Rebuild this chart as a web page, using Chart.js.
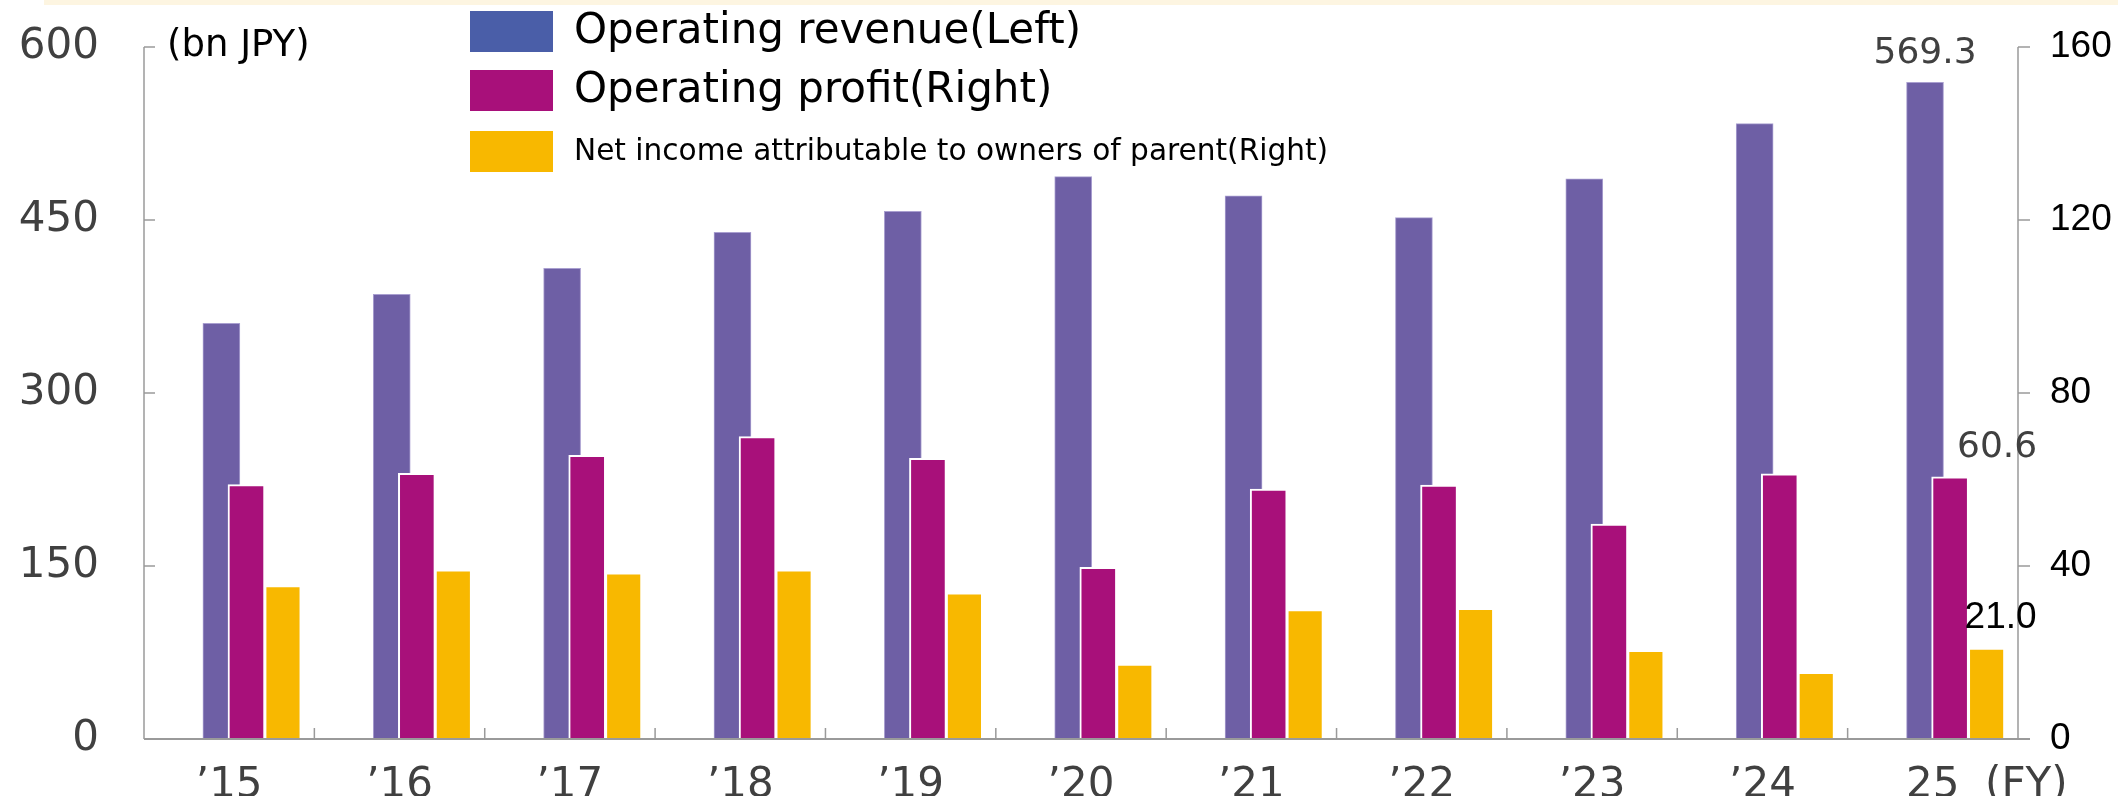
<!DOCTYPE html>
<html>
<head>
<meta charset="utf-8">
<script src="https://cdn.jsdelivr.net/npm/chart.js@4.4.1/dist/chart.umd.min.js"></script>
<style>
  html, body { margin: 0; padding: 0; background: #fff; }
  #wrap { position: relative; width: 2118px; height: 796px; }
</style>
</head>
<body>
<div id="wrap"><canvas id="chart"></canvas></div>
<script>
// -------------------- Data --------------------
const fiscalYears = ['’15', '’16', '’17', '’18', '’19', '’20', '’21', '’22', '’23', '’24', '25'];
const operatingRevenue = [360.4, 385.6, 408.1, 439.3, 457.6, 487.6, 470.9, 452.0, 485.7, 533.5, 569.3];
const operatingProfit = [58.8, 61.4, 65.6, 69.9, 64.9, 39.7, 57.8, 58.7, 49.7, 61.3, 60.6];
const netIncome = [35.5, 39.1, 38.4, 39.1, 33.8, 17.3, 29.9, 30.2, 20.5, 15.4, 21.0];
const leftTicks = [0, 150, 300, 450, 600];
const rightTicks = [0, 40, 80, 120, 160];
const seriesNames = [
  'Operating revenue(Left)',
  'Operating profit(Right)',
  'Net income attributable to owners of parent(Right)'
];
const unitLabel = '(bn JPY)';
const periodLabel = '(FY)';

// -------------------- Styles --------------------
const revenueColor = '#6e5fa5';
const profitColor = '#a8107a';
const incomeColor = '#f8b800';
const legendSwatches = ['#4a5ea8', profitColor, incomeColor];
const axisColor = '#9a9a9a';
const labelGray = '#404040';
const gothic = '"DejaVu Sans", "Noto Sans", sans-serif';
const arial = '"Liberation Sans", Arial, sans-serif';

// -------------------- Plugins --------------------
const topBand = {
  id: 'topBand',
  beforeDraw(chart) {
    const ctx = chart.ctx;
    ctx.save();
    ctx.fillStyle = '#fdf5e1';
    ctx.fillRect(44, 0, chart.width - 44, 5);
    ctx.restore();
  }
};

const axisLines = {
  id: 'axisLines',
  afterDatasetsDraw(chart) {
    const { ctx, chartArea } = chart;
    const { x, y, y1 } = chart.scales;
    ctx.save();
    ctx.strokeStyle = axisColor;
    ctx.lineWidth = 1.5;
    ctx.beginPath();
    // left axis, ticks pointing inward
    ctx.moveTo(chartArea.left, chartArea.top);
    ctx.lineTo(chartArea.left, chartArea.bottom);
    y.ticks.forEach((t, i) => {
      const py = y.getPixelForTick(i);
      ctx.moveTo(chartArea.left, py);
      ctx.lineTo(chartArea.left + 11, py);
    });
    // right axis, ticks pointing outward
    ctx.moveTo(chartArea.right, chartArea.top);
    ctx.lineTo(chartArea.right, chartArea.bottom);
    y1.ticks.forEach((t, i) => {
      const py = y1.getPixelForTick(i);
      ctx.moveTo(chartArea.right, py);
      ctx.lineTo(chartArea.right + 12, py);
    });
    // short separators between fiscal years
    const step = x.width / fiscalYears.length;
    for (let i = 0; i < fiscalYears.length - 1; i++) {
      const px = x.getPixelForValue(i) + step / 2;
      ctx.moveTo(px, chartArea.bottom);
      ctx.lineTo(px, chartArea.bottom - 11);
    }
    ctx.stroke();
    ctx.lineWidth = 2;
    ctx.beginPath();
    ctx.moveTo(chartArea.left, chartArea.bottom);
    ctx.lineTo(chartArea.right + 12, chartArea.bottom);
    ctx.stroke();
    ctx.restore();
  }
};

const lastValueLabels = {
  id: 'lastValueLabels',
  afterDatasetsDraw(chart) {
    const ctx = chart.ctx;
    const last = fiscalYears.length - 1;
    const specs = [
      { dataset: 1, values: operatingRevenue, dx: 0, gap: 19, font: '36px ' + gothic, color: labelGray },
      { dataset: 2, values: operatingProfit, dx: 47, gap: 20, font: '36px ' + gothic, color: labelGray },
      { dataset: 3, values: netIncome, dx: 14, gap: 20, font: '37px ' + arial, color: '#000' }
    ];
    ctx.save();
    ctx.textAlign = 'center';
    ctx.textBaseline = 'alphabetic';
    specs.forEach(s => {
      const bar = chart.getDatasetMeta(s.dataset).data[last];
      ctx.font = s.font;
      ctx.fillStyle = s.color;
      ctx.fillText(s.values[last].toFixed(1), bar.x + s.dx, bar.y - s.gap);
    });
    ctx.restore();
  }
};

const notes = {
  id: 'notes',
  afterDraw(chart) {
    const ctx = chart.ctx;
    const { x } = chart.scales;
    ctx.save();
    // legend
    const rows = [31.5, 90.5, 151.5];
    const sizes = [42, 42, 29.6];
    rows.forEach((cy, i) => {
      ctx.fillStyle = legendSwatches[i];
      ctx.fillRect(470, cy - 20.5, 83, 41);
      ctx.fillStyle = '#000';
      ctx.font = sizes[i] + 'px ' + gothic;
      ctx.textAlign = 'left';
      ctx.textBaseline = 'middle';
      ctx.fillText(seriesNames[i], 574, cy + 1);
    });
    // unit
    ctx.font = '37px ' + gothic;
    ctx.fillStyle = '#000';
    ctx.fillText(unitLabel, 167, 46);
    // fiscal year marker on the label line
    const tickFont = x.options.ticks.font;
    ctx.font = tickFont.size + 'px ' + gothic;
    ctx.fillStyle = labelGray;
    ctx.fillText(periodLabel, 1985, x.top + x.options.ticks.padding + tickFont.size * 1.2 / 2);
    ctx.restore();
  }
};

const noPad = s => { s.paddingTop = 0; s.paddingBottom = 0; s.paddingLeft = 0; s.paddingRight = 0; };

// -------------------- Chart --------------------
// Two bar slots per year: 'left' holds revenue, 'right' holds profit and net income.
// Each dataset has its own categoryPercentage, so inside its slot it lands where the original draws it.
// The empty first dataset only claims the 'left' slot, so revenue can be drawn underneath the others.
const ctx = document.getElementById('chart');
new Chart(ctx, {
  type: 'bar',
  data: {
    labels: fiscalYears,
    datasets: [
      { label: '', data: [], stack: 'left', order: -1, yAxisID: 'y', barThickness: 'flex' },
      {
        label: seriesNames[0],
        data: operatingRevenue,
        yAxisID: 'y',
        stack: 'left',
        order: 1,
        backgroundColor: revenueColor,
        borderColor: '#a99fd0',
        borderWidth: 1,
        barThickness: 'flex',
        categoryPercentage: 0.1831,
        barPercentage: 2.372
      },
      {
        label: seriesNames[1],
        data: operatingProfit,
        yAxisID: 'y1',
        stack: 'right',
        order: 0,
        backgroundColor: profitColor,
        borderColor: '#ffffff',
        borderWidth: 2,
        barThickness: 'flex',
        categoryPercentage: 0.4061,
        barPercentage: 1.069
      },
      {
        label: seriesNames[2],
        data: netIncome,
        yAxisID: 'y1',
        stack: 'right',
        order: 0,
        backgroundColor: incomeColor,
        borderColor: '#ffffff',
        borderWidth: 2,
        barThickness: 'flex',
        categoryPercentage: 1.2629,
        barPercentage: 0.3392
      }
    ]
  },
  options: {
    responsive: true,
    maintainAspectRatio: false,
    animation: false,
    layout: { padding: { top: 47, left: 0, right: 0, bottom: 0 } },
    plugins: {
      legend: { display: false },
      tooltip: { enabled: false }
    },
    scales: {
      x: {
        type: 'category',
        position: 'bottom',
        offset: true,
        grid: { display: false, drawTicks: false, tickLength: 0 },
        border: { display: false },
        ticks: {
          color: labelGray,
          font: { family: gothic, size: 42 },
          padding: 22,
          maxRotation: 0,
          autoSkip: false
        },
        afterFit: s => { s.height = 57; noPad(s); }
      },
      y: {
        position: 'left',
        stacked: false,
        min: leftTicks[0],
        max: leftTicks[leftTicks.length - 1],
        afterBuildTicks: s => { s.ticks = leftTicks.map(v => ({ value: v })); },
        grid: { display: false, drawTicks: false, tickLength: 0 },
        border: { display: false },
        ticks: { color: labelGray, font: { family: gothic, size: 42 }, padding: 45 },
        afterFit: s => { s.width = 144; noPad(s); }
      },
      y1: {
        position: 'right',
        stacked: false,
        min: rightTicks[0],
        max: rightTicks[rightTicks.length - 1],
        afterBuildTicks: s => { s.ticks = rightTicks.map(v => ({ value: v })); },
        grid: { display: false, drawTicks: false, tickLength: 0 },
        border: { display: false },
        ticks: { color: '#000', font: { family: arial, size: 37 }, padding: 32 },
        afterFit: s => { s.width = 100; noPad(s); }
      }
    }
  },
  plugins: [topBand, axisLines, lastValueLabels, notes]
});
</script>
</body>
</html>
